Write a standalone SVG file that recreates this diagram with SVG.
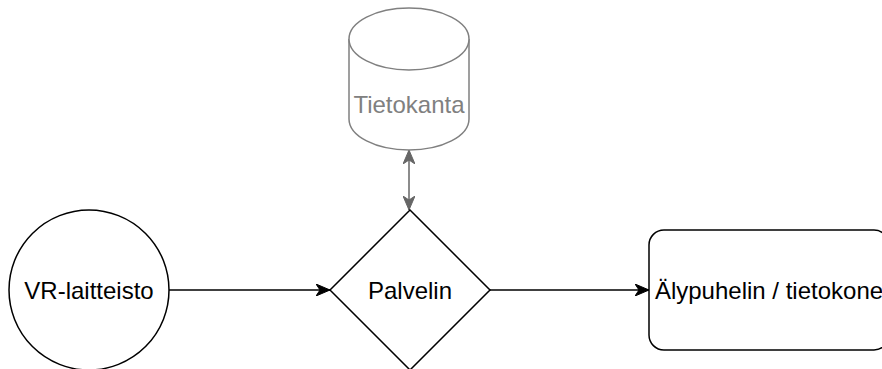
<svg xmlns="http://www.w3.org/2000/svg" width="882" height="369" viewBox="0 0 882 369">
  <style>
    .shape { fill: #ffffff; stroke: #000000; stroke-width: 1.5; }
    .db { fill: #ffffff; stroke: #808080; stroke-width: 1.5; }
    .lbl { font-family: "Liberation Sans", Arial, sans-serif; font-size: 24px; text-anchor: middle; fill: #000000; }
    .lbl-gray { fill: #808080; }
    .edge { fill: none; stroke: #000000; stroke-width: 1.5; }
    .edge-gray { fill: none; stroke: #666666; stroke-width: 1.5; }
  </style>
  <defs>
    <marker id="arrowBlack" markerUnits="userSpaceOnUse" viewBox="0 0 14 12" refX="14" refY="6" markerWidth="14" markerHeight="12" orient="auto-start-reverse">
      <path d="M14 6 L0 0 L4 6 L0 12 Z" fill="#000000" stroke="#000000" stroke-width="1"/>
    </marker>
    <marker id="arrowGray" markerUnits="userSpaceOnUse" viewBox="0 0 14 12" refX="14" refY="6" markerWidth="14" markerHeight="12" orient="auto-start-reverse">
      <path d="M14 6 L0 0 L4 6 L0 12 Z" fill="#666666" stroke="#666666" stroke-width="1"/>
    </marker>
  </defs>

  <g id="connectors">
    <path id="edge-vr-palvelin" class="edge" d="M169 290 L330 290" marker-end="url(#arrowBlack)"/>
    <path id="edge-palvelin-aly" class="edge" d="M490 290 L649 290" marker-end="url(#arrowBlack)"/>
    <path id="edge-db-palvelin" class="edge-gray" d="M409 150 L409 210" marker-start="url(#arrowGray)" marker-end="url(#arrowGray)"/>
  </g>

  <g id="node-tietokanta">
    <path class="db" d="M349 39 L349 119 A60 31 0 0 0 469 119 L469 39 A60 31 0 0 0 349 39 Z"/>
    <path class="db" d="M349 39 A60 31 0 0 0 469 39" fill="none"/>
    <text class="lbl lbl-gray" x="409" y="113">Tietokanta</text>
  </g>

  <g id="node-vr">
    <circle class="shape" cx="89" cy="290" r="80"/>
    <text class="lbl" x="89" y="299">VR-laitteisto</text>
  </g>

  <g id="node-palvelin">
    <path class="shape" d="M410 210 L490 290 L410 370 L330 290 Z"/>
    <text class="lbl" x="410" y="299">Palvelin</text>
  </g>

  <g id="node-aly">
    <rect class="shape" x="649" y="230" width="240" height="120" rx="15" ry="15"/>
    <text class="lbl" x="769" y="299">Älypuhelin / tietokone</text>
  </g>
</svg>
